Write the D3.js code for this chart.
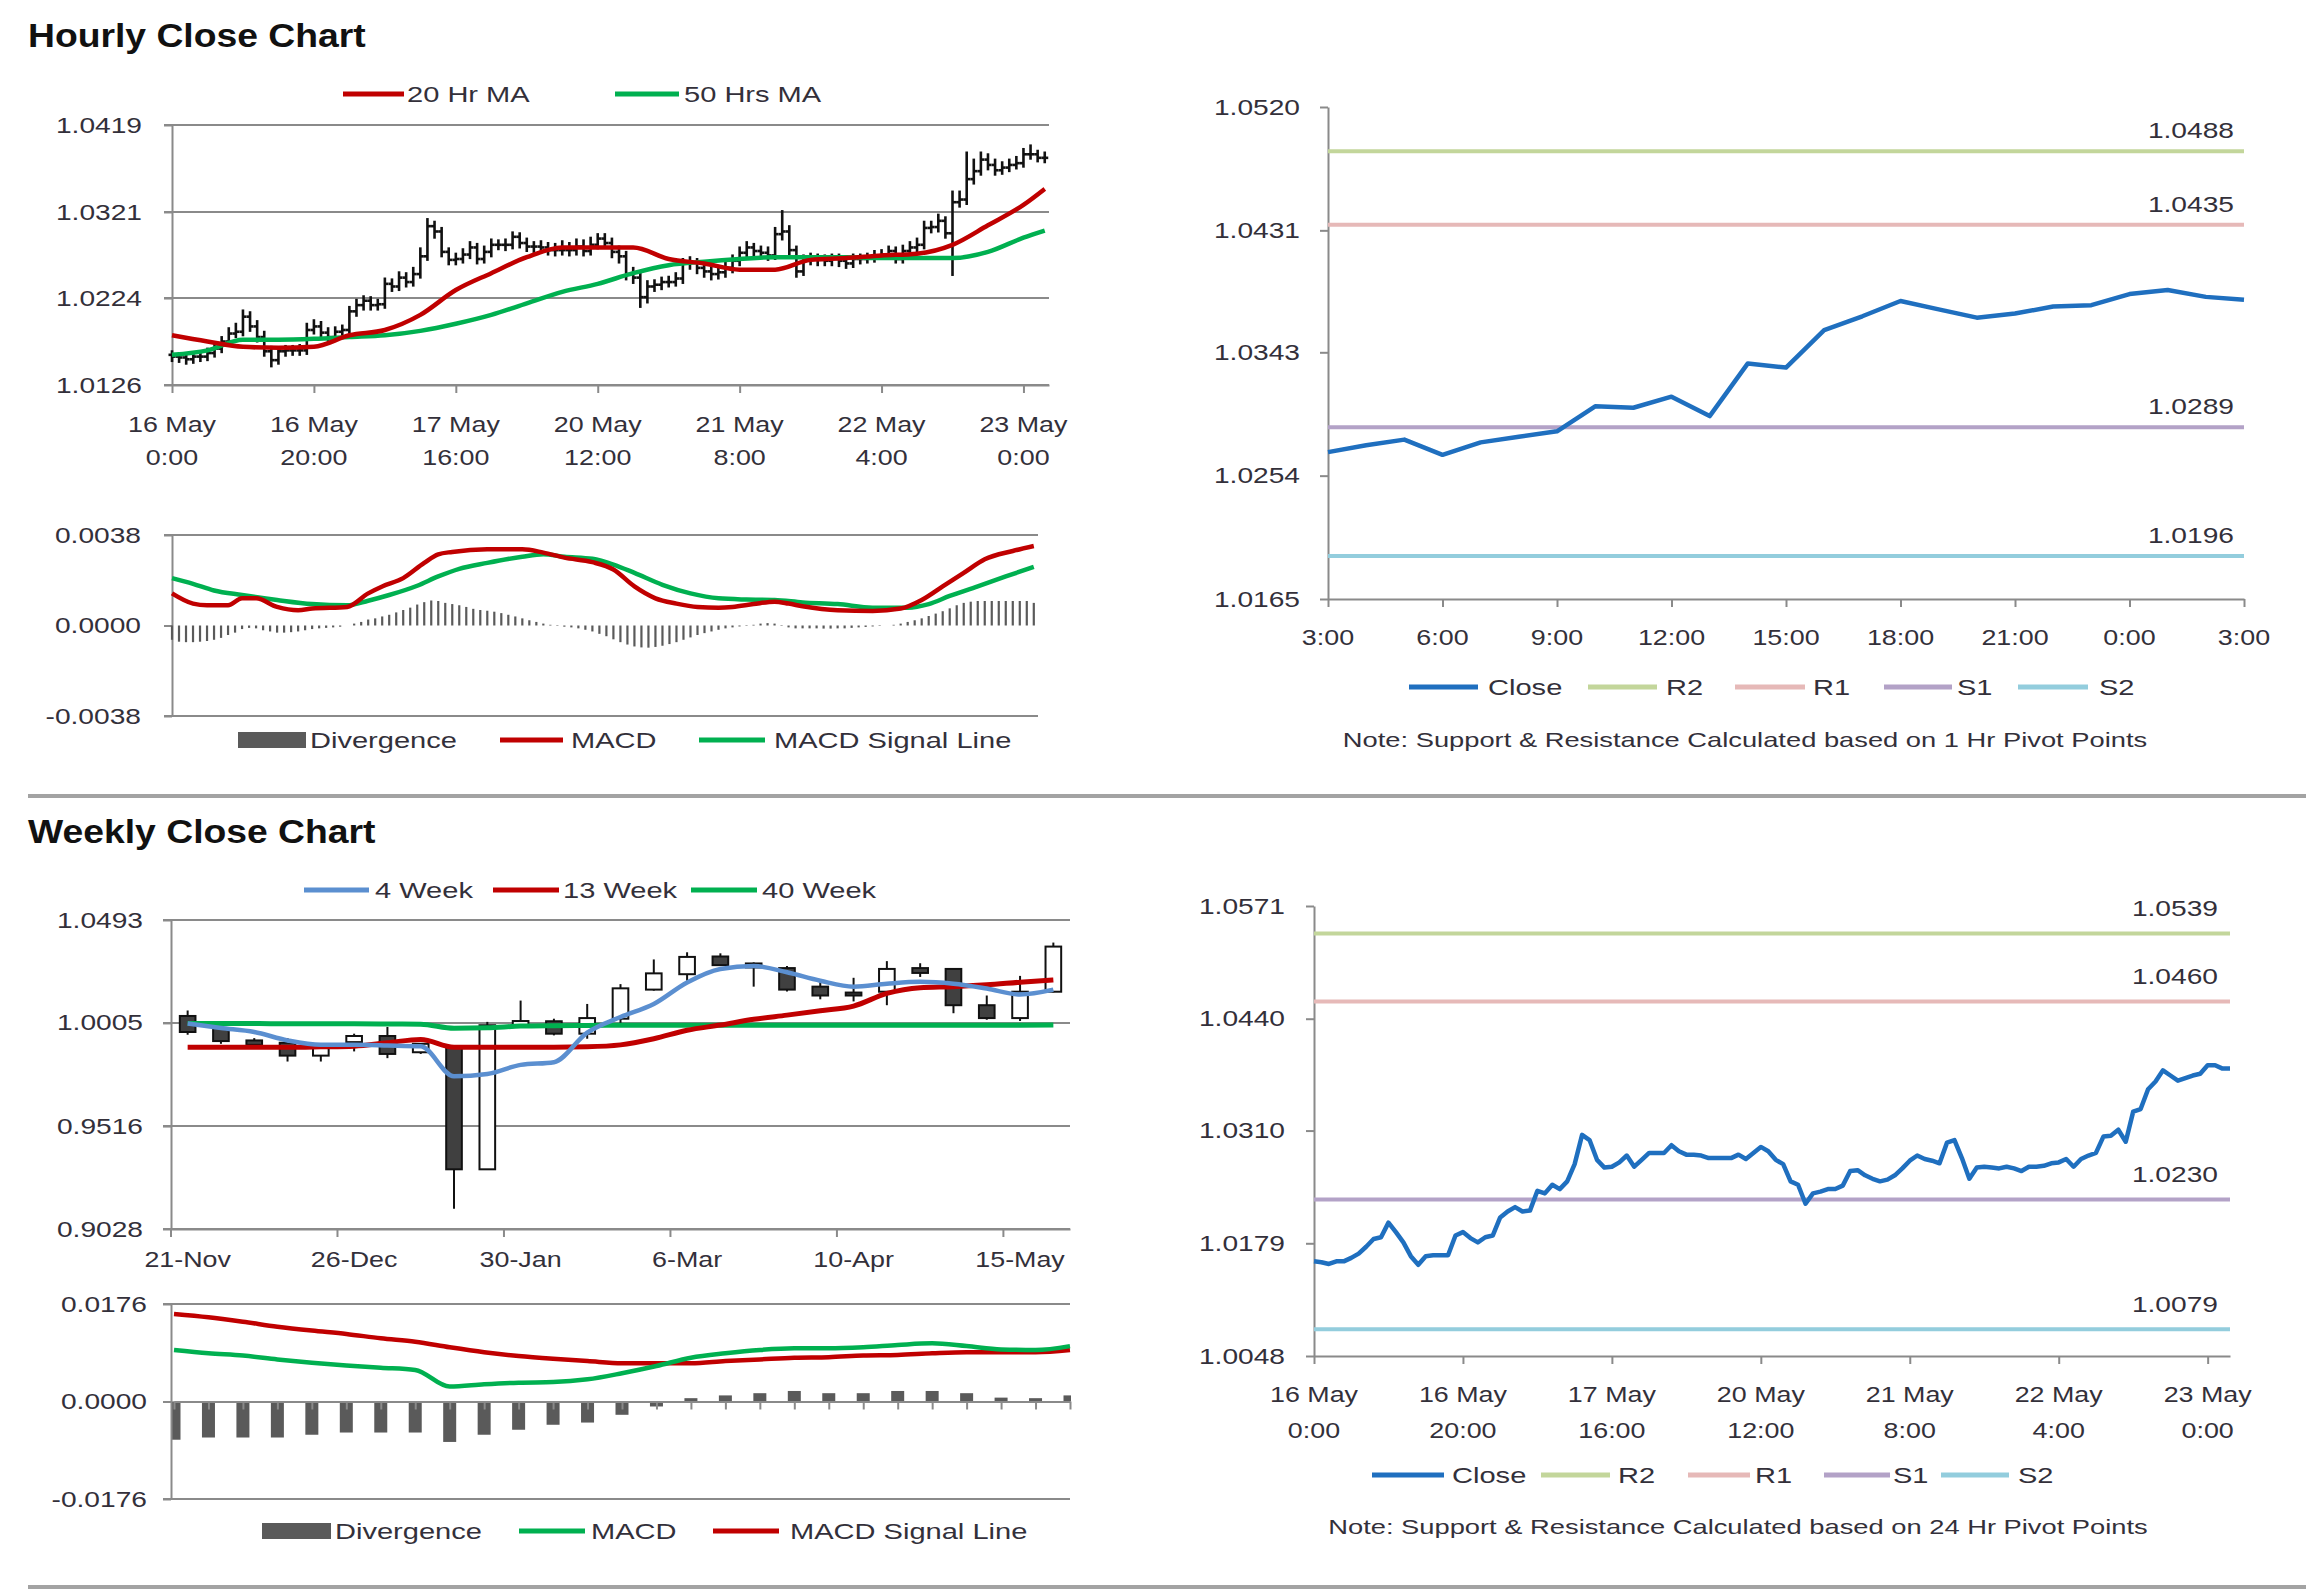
<!DOCTYPE html>
<html><head><meta charset="utf-8">
<script src="https://cdn.jsdelivr.net/npm/d3@7"></script>
<style>body{margin:0;background:#fff}svg{display:block}</style>
</head><body>
<svg id="chart" width="2306" height="1591"></svg>
<script>
// ================= DATA =================
// Hourly OHLC (16 May 0:00 .. 23 May 3:00), index = trading hour
const hourlyOpen = [1.0160,1.0158,1.0157,1.0155,1.0158,1.0158,1.0162,1.0167,1.0175,1.0184,
1.0186,1.0203,1.0192,1.0180,1.0164,1.0154,1.0164,1.0165,1.0165,1.0165,
1.0188,1.0192,1.0185,1.0180,1.0186,1.0188,1.0209,1.0216,1.0221,1.0216,
1.0217,1.0240,1.0237,1.0247,1.0242,1.0251,1.0271,1.0305,1.0299,1.0276,
1.0267,1.0268,1.0273,1.0281,1.0268,1.0276,1.0284,1.0284,1.0284,1.0293,
1.0286,1.0282,1.0282,1.0281,1.0278,1.0278,1.0278,1.0278,1.0282,1.0277,
1.0284,1.0291,1.0286,1.0276,1.0271,1.0251,1.0247,1.0225,1.0237,1.0239,
1.0242,1.0242,1.0246,1.0263,1.0264,1.0258,1.0254,1.0251,1.0253,1.0258,
1.0266,1.0275,1.0281,1.0277,1.0275,1.0272,1.0296,1.0299,1.0278,1.0254,
1.0267,1.0268,1.0267,1.0266,1.0268,1.0266,1.0263,1.0268,1.0268,1.0269,
1.0272,1.0273,1.0277,1.0268,1.0277,1.0281,1.0284,1.0303,1.0304,1.0311,
1.0297,1.0332,1.0335,1.0358,1.0367,1.0380,1.0374,1.0368,1.0371,1.0374,
1.0376,1.0386,1.0386,1.0382];
const hourlyHigh = [1.0164,1.0162,1.0161,1.0163,1.0163,1.0167,1.0172,1.0180,1.0190,1.0195,
1.0210,1.0208,1.0198,1.0186,1.0169,1.0168,1.0170,1.0170,1.0171,1.0195,
1.0199,1.0197,1.0190,1.0191,1.0193,1.0214,1.0222,1.0226,1.0225,1.0222,
1.0246,1.0245,1.0253,1.0252,1.0258,1.0280,1.0313,1.0310,1.0303,1.0280,
1.0274,1.0279,1.0287,1.0285,1.0282,1.0290,1.0289,1.0290,1.0298,1.0297,
1.0291,1.0287,1.0288,1.0286,1.0285,1.0288,1.0286,1.0290,1.0289,1.0292,
1.0296,1.0296,1.0291,1.0282,1.0276,1.0258,1.0252,1.0243,1.0244,1.0247,
1.0248,1.0252,1.0268,1.0270,1.0268,1.0263,1.0259,1.0258,1.0264,1.0272,
1.0281,1.0287,1.0285,1.0282,1.0281,1.0303,1.0322,1.0305,1.0282,1.0272,
1.0274,1.0273,1.0272,1.0273,1.0273,1.0271,1.0273,1.0273,1.0274,1.0277,
1.0278,1.0282,1.0281,1.0283,1.0287,1.0291,1.0310,1.0310,1.0318,1.0315,
1.0344,1.0344,1.0388,1.0380,1.0388,1.0386,1.0380,1.0377,1.0380,1.0383,
1.0392,1.0396,1.0390,1.0388];
const hourlyLow = [1.0153,1.0152,1.0150,1.0151,1.0153,1.0154,1.0158,1.0163,1.0171,1.0180,
1.0182,1.0187,1.0175,1.0159,1.0147,1.0150,1.0159,1.0160,1.0160,1.0161,
1.0184,1.0180,1.0175,1.0176,1.0182,1.0184,1.0204,1.0211,1.0211,1.0211,
1.0213,1.0232,1.0233,1.0237,1.0238,1.0247,1.0267,1.0292,1.0271,1.0262,
1.0262,1.0264,1.0269,1.0263,1.0264,1.0271,1.0279,1.0278,1.0280,1.0281,
1.0277,1.0276,1.0276,1.0273,1.0272,1.0273,1.0272,1.0273,1.0272,1.0273,
1.0280,1.0281,1.0270,1.0264,1.0245,1.0241,1.0214,1.0219,1.0232,1.0234,
1.0237,1.0238,1.0241,1.0257,1.0252,1.0248,1.0245,1.0246,1.0248,1.0253,
1.0261,1.0270,1.0272,1.0270,1.0267,1.0268,1.0290,1.0273,1.0248,1.0250,
1.0262,1.0261,1.0261,1.0261,1.0260,1.0258,1.0259,1.0263,1.0264,1.0265,
1.0268,1.0269,1.0264,1.0264,1.0273,1.0277,1.0280,1.0298,1.0299,1.0292,
1.0250,1.0327,1.0330,1.0353,1.0363,1.0369,1.0363,1.0364,1.0367,1.0370,
1.0372,1.0381,1.0378,1.0377];
const hourlyClose = [1.0158,1.0157,1.0155,1.0158,1.0158,1.0162,1.0167,1.0175,1.0184,1.0186,
1.0203,1.0192,1.0180,1.0164,1.0154,1.0164,1.0165,1.0165,1.0165,1.0188,
1.0192,1.0185,1.0180,1.0186,1.0188,1.0209,1.0216,1.0221,1.0216,1.0217,
1.0240,1.0237,1.0247,1.0242,1.0251,1.0271,1.0305,1.0299,1.0276,1.0267,
1.0268,1.0273,1.0281,1.0268,1.0276,1.0284,1.0284,1.0284,1.0293,1.0286,
1.0282,1.0282,1.0281,1.0278,1.0278,1.0278,1.0278,1.0282,1.0277,1.0284,
1.0291,1.0286,1.0276,1.0271,1.0251,1.0247,1.0225,1.0237,1.0239,1.0242,
1.0242,1.0246,1.0263,1.0264,1.0258,1.0254,1.0251,1.0253,1.0258,1.0266,
1.0275,1.0281,1.0277,1.0275,1.0272,1.0296,1.0299,1.0278,1.0254,1.0267,
1.0268,1.0267,1.0266,1.0268,1.0266,1.0263,1.0268,1.0268,1.0269,1.0272,
1.0273,1.0277,1.0268,1.0277,1.0281,1.0284,1.0303,1.0304,1.0311,1.0297,
1.0332,1.0335,1.0358,1.0367,1.0380,1.0374,1.0368,1.0371,1.0374,1.0376,
1.0386,1.0386,1.0382,1.0382];

// Moving averages (read every 5 hours)
const maIndex = [0,5,10,15,20,25,30,35,40,45,50,55,60,65,70,75,80,85,90,95,100,105,110,115,120,123];
const ma20Hr = [1.0182,1.0175,1.0169,1.0168,1.0169,1.0182,1.0188,1.0205,1.0233,1.0252,1.0270,1.0281,1.0281,1.0281,1.0268,1.0263,1.0256,1.0256,1.0267,1.0269,1.0272,1.0274,1.0284,1.0306,1.0329,1.0347];
const ma50Hr = [1.0160,1.0165,1.0177,1.0177,1.0178,1.0180,1.0182,1.0187,1.0195,1.0205,1.0218,1.0231,1.0240,1.0252,1.0261,1.0265,1.0268,1.0270,1.0270,1.0270,1.0269,1.0269,1.0269,1.0276,1.0292,1.0300];

// Hourly MACD
const macdHIndex = [0,3,5,8,10,12,15,18,20,25,28,30,33,36,38,40,45,50,53,56,60,63,66,69,72,75,78,80,83,86,88,90,95,100,104,107,110,113,116,120,123];
const macdH = [0.00135,0.00092,0.00085,0.00085,0.00114,0.00114,0.00078,0.00064,0.00071,0.00078,0.00135,0.00164,0.00199,0.00263,0.00299,0.00309,0.00320,0.00320,0.00306,0.00285,0.00266,0.00235,0.00164,0.00114,0.00092,0.00078,0.00075,0.00078,0.00090,0.00100,0.00092,0.00081,0.00064,0.00061,0.00071,0.00107,0.00164,0.00221,0.00278,0.00313,0.00334];
const signalHIndex = [0,3,6,10,15,20,25,28,31,35,38,41,45,50,53,56,60,63,66,70,74,78,82,86,90,95,100,105,108,111,115,119,123];
const signalH = [0.00199,0.00175,0.00147,0.00128,0.00107,0.00090,0.00085,0.00104,0.00128,0.00167,0.00206,0.00238,0.00263,0.00289,0.00299,0.00289,0.00280,0.00256,0.00221,0.00171,0.00135,0.00114,0.00109,0.00107,0.00097,0.00090,0.00075,0.00075,0.00090,0.00124,0.00164,0.00206,0.00246];
const divergenceH = [-0.00060,-0.00068,-0.00070,-0.00070,-0.00068,-0.00065,-0.00060,-0.00052,-0.00040,-0.00030,
-0.00015,-0.00010,-0.00012,-0.00020,-0.00025,-0.00030,-0.00030,-0.00028,-0.00025,-0.00020,
-0.00015,-0.00012,-0.00010,-0.00008,-0.00005,0.00000,0.00008,0.00015,0.00025,0.00030,
0.00038,0.00045,0.00055,0.00065,0.00075,0.00088,0.00098,0.00105,0.00103,0.00095,
0.00090,0.00085,0.00078,0.00070,0.00065,0.00062,0.00058,0.00052,0.00045,0.00038,
0.00030,0.00022,0.00015,0.00008,0.00003,-0.00002,-0.00005,-0.00008,-0.00012,-0.00018,
-0.00025,-0.00035,-0.00045,-0.00058,-0.00070,-0.00080,-0.00088,-0.00092,-0.00093,-0.00090,
-0.00085,-0.00078,-0.00070,-0.00060,-0.00050,-0.00040,-0.00032,-0.00025,-0.00018,-0.00012,
-0.00008,-0.00004,-0.00002,0.00003,0.00008,0.00010,0.00008,0.00002,-0.00008,-0.00012,
-0.00012,-0.00012,-0.00012,-0.00013,-0.00013,-0.00012,-0.00012,-0.00010,-0.00008,-0.00006,
-0.00004,-0.00002,0.00000,0.00003,0.00008,0.00015,0.00022,0.00030,0.00040,0.00050,
0.00060,0.00072,0.00085,0.00095,0.00100,0.00103,0.00103,0.00103,0.00103,0.00103,
0.00103,0.00103,0.00103,0.00095];

// Axis ticks
const hourTickIndex = [0,20,40,60,80,100,120];
const hourTickDay = ['16 May','16 May','17 May','20 May','21 May','22 May','23 May'];
const hourTickTime = ['0:00','20:00','16:00','12:00','8:00','4:00','0:00'];
const hourlyPriceTicks = [1.0126,1.0224,1.0321,1.0419];
const hourlyMacdTicks = [-0.0038,0.0000,0.0038];

// Last 24 hours close (22 May 3:00 .. 23 May 3:00) with 1 Hr pivots
const dayHours = ['3:00','6:00','9:00','12:00','15:00','18:00','21:00','0:00','3:00'];
const dayClose = [1.0271,1.0276,1.0280,1.0269,1.0278,1.0282,1.0286,1.0304,1.0303,1.0311,1.0297,1.0335,1.0332,1.0359,1.0369,1.0380,1.0374,1.0368,1.0371,1.0376,1.0377,1.0385,1.0388,1.0383,1.0381];
const dayTicks = [1.0165,1.0254,1.0343,1.0431,1.0520];
const pivotNames = ['R2','R1','S1','S2'];
const pivot1Hr = [1.0488,1.0435,1.0289,1.0196];
const pivot24Hr = [1.0539,1.0460,1.0230,1.0079];
const weekHourTicks = [1.0048,1.0179,1.0310,1.0440,1.0571];

// Weekly
const weeks = ['21-Nov','28-Nov','5-Dec','12-Dec','19-Dec','26-Dec','2-Jan','9-Jan','16-Jan','23-Jan','30-Jan','6-Feb','13-Feb','20-Feb','27-Feb','6-Mar','13-Mar','20-Mar','27-Mar','3-Apr','10-Apr','17-Apr','24-Apr','1-May','8-May','15-May','22-May'];
const weekLabelIdx = [0,5,10,15,20,25];
const wOpen  = [1.0038,0.9981,0.9922,0.9911,0.9850,0.9914,0.9943,0.9866,0.9890,0.9311,0.9994,1.0013,0.9954,1.0025,1.0163,1.0236,1.0320,1.0287,1.0265,1.0177,1.0149,1.0153,1.0265,1.0261,1.0089,1.0028,1.0153];
const wHigh  = [1.0064,0.9991,0.9933,0.9933,0.9901,0.9954,0.9986,0.9906,0.9890,1.0010,1.0111,1.0025,1.0095,1.0189,1.0306,1.0340,1.0335,1.0292,1.0275,1.0200,1.0219,1.0298,1.0288,1.0261,1.0135,1.0228,1.0386];
const wLow   = [0.9949,0.9906,0.9895,0.9822,0.9822,0.9870,0.9838,0.9858,0.9124,0.9311,0.9994,0.9946,0.9930,1.0002,1.0158,1.0205,1.0276,1.0177,1.0154,1.0117,1.0107,1.0089,1.0223,1.0051,1.0020,1.0014,1.0150];
const wClose = [0.9962,0.9919,0.9901,0.9850,0.9898,0.9943,0.9858,0.9906,0.9311,0.9994,1.0014,0.9954,1.0028,1.0169,1.0240,1.0318,1.0279,1.0268,1.0163,1.0135,1.0135,1.0261,1.0242,1.0089,1.0028,1.0153,1.0367];
const ma4Week  = [1.0002,0.9981,0.9962,0.9922,0.9901,0.9901,0.9898,0.9894,0.9752,0.9763,0.9806,0.9819,0.9959,1.0033,1.0095,1.0197,1.0261,1.0275,1.0245,1.0205,1.0177,1.0191,1.0200,1.0191,1.0168,1.0140,1.0163];
const ma13Week = [0.9890,0.9890,0.9890,0.9890,0.9892,0.9895,0.9911,0.9927,0.9890,0.9890,0.9890,0.9890,0.9892,0.9901,0.9930,0.9970,0.9995,1.0022,1.0042,1.0063,1.0085,1.0145,1.0172,1.0177,1.0186,1.0198,1.0209];
const ma40Week = [1.0002,1.0002,1.0002,1.0001,1.0001,1.0001,1.0000,0.9999,0.9980,0.9982,0.9990,0.9992,0.9993,0.9994,0.9994,0.9994,0.9994,0.9994,0.9994,0.9994,0.9994,0.9994,0.9994,0.9994,0.9994,0.9994,0.9995];
const weeklyPriceTicks = [0.9028,0.9516,1.0005,1.0493];
const macdW   = [0.0093,0.0087,0.0083,0.0076,0.0070,0.0065,0.0061,0.0057,0.0027,0.0031,0.0034,0.0035,0.0040,0.0051,0.0064,0.0079,0.0087,0.0093,0.0096,0.0096,0.0098,0.0102,0.0105,0.0100,0.0094,0.0093,0.0100];
const signalW = [0.0158,0.0152,0.0144,0.0135,0.0128,0.0122,0.0114,0.0108,0.0098,0.0089,0.0082,0.0077,0.0073,0.0069,0.0069,0.0069,0.0073,0.0076,0.0079,0.0080,0.0083,0.0084,0.0087,0.0089,0.0089,0.0089,0.0093];
const divergenceW = [-0.0069,-0.0065,-0.0065,-0.0065,-0.0060,-0.0056,-0.0056,-0.0056,-0.0073,-0.0060,-0.0051,-0.0042,-0.0038,-0.0024,-0.0009,0.0006,0.0011,0.0015,0.0019,0.0015,0.0015,0.0019,0.0019,0.0015,0.0007,0.0006,0.0011];
const weeklyMacdTicks = [-0.0176,0.0000,0.0176];

// ================= DRAWING =================
const FONT = "'Liberation Sans', Arial, Helvetica, sans-serif";
const TC = '#33303a';
const AX = '#8a8a8a';
const GRID = '#8a8a8a';
const RED = '#c00000', GREEN = '#00b050', BLUE4 = '#5b8fd0', CLOSE = '#1f6fbf';
const PIV = {R2:'#c3d69b', R1:'#e6b9b8', S1:'#b3a2c7', S2:'#93cddd'};
const BARC = '#5a5a5a';
const K_Y = 1.28, K_X = 1.22, K_LEG = 1.32;
const svg = d3.select('#chart');
const fmt4 = d3.formatLocale({decimal: '.', thousands: ',', grouping: [3], currency: ['', ''], minus: '-'}).format('.4f');

function txt(g, x, y, s, o = {}) {
  return g.append('text').attr('x', x).attr('y', y)
    .attr('text-anchor', o.anchor || 'start')
    .attr('dy', o.dy === undefined ? '0.35em' : o.dy)
    .attr('data-k', o.k || K_X)
    .style('font-family', FONT).style('font-size', (o.size || 22) + 'px')
    .style('font-weight', o.weight || 'normal').style('fill', o.fill || TC)
    .text(s);
}
function styleAxis(a) {
  a.select('.domain').attr('stroke', AX).attr('stroke-width', 2);
  a.selectAll('.tick line').attr('stroke', AX).attr('stroke-width', 2);
  a.selectAll('.tick text').style('font-family', FONT).style('font-size', '22px').style('fill', TC).attr('data-k', K_Y);
  a.attr('font-size', null).attr('font-family', null);
}
function hline(g, x1, x2, y, c, w) {
  g.append('line').attr('x1', x1).attr('x2', x2).attr('y1', y).attr('y2', y).attr('stroke', c).attr('stroke-width', w);
}
function legendLine(g, x1, x2, y, c, label, tx) {
  hline(g, x1, x2, y, c, 5);
  txt(g, tx, y, label, {k: K_LEG});
}
function legendBox(g, x1, x2, y, c, label, tx) {
  g.append('rect').attr('x', x1).attr('y', y - 8).attr('width', x2 - x1).attr('height', 16).attr('fill', c);
  txt(g, tx, y, label, {k: K_LEG});
}

// separators and titles
hline(svg, 28, 2306, 796, '#a3a3a3', 4);
hline(svg, 28, 2306, 1587, '#a3a3a3', 4);
txt(svg, 28, 47, 'Hourly Close Chart', {size: 33, weight: 'bold', dy: 0, k: 1.13, fill: '#111'});
txt(svg, 28, 843, 'Weekly Close Chart', {size: 33, weight: 'bold', dy: 0, k: 1.13, fill: '#111'});

// ---------- Hourly OHLC ----------
{
  const g = svg.append('g');
  const x = d3.scaleLinear().domain([0, 123.6]).range([172, 1049]);
  const y = d3.scaleLinear().domain([1.0126, 1.0419]).range([385, 125]);
  hourlyPriceTicks.forEach(t => hline(g, 164, 1049, y(t), GRID, 2));
  styleAxis(g.append('g').attr('transform', 'translate(172,0)')
    .call(d3.axisLeft(y).tickValues(hourlyPriceTicks).tickSize(8).tickSizeOuter(0).tickPadding(22).tickFormat(fmt4)));
  styleAxis(g.append('g').attr('transform', 'translate(0,385)')
    .call(d3.axisBottom(x).tickValues(hourTickIndex).tickSize(8).tickSizeOuter(0).tickFormat('')));
  hourTickIndex.forEach((t, k) => { txt(g, x(t), 424, hourTickDay[k], {anchor: 'middle'}); txt(g, x(t), 457, hourTickTime[k], {anchor: 'middle'}); });
  const bars = g.append('g').attr('stroke', '#111').attr('stroke-width', 2.6);
  hourlyClose.forEach((c, i) => {
    const cx = x(i);
    bars.append('line').attr('x1', cx).attr('x2', cx).attr('y1', y(hourlyHigh[i]) - 1).attr('y2', y(hourlyLow[i]) + 1);
    bars.append('line').attr('x1', cx - 3.5).attr('x2', cx).attr('y1', y(hourlyOpen[i])).attr('y2', y(hourlyOpen[i]));
    bars.append('line').attr('x1', cx).attr('x2', cx + 3.5).attr('y1', y(c)).attr('y2', y(c));
  });
  const line = d3.line().x(d => x(d[0])).y(d => y(d[1])).curve(d3.curveMonotoneX);
  g.append('path').attr('d', line(maIndex.map((t, k) => [t, ma50Hr[k]]))).attr('fill', 'none').attr('stroke', GREEN).attr('stroke-width', 4.5);
  g.append('path').attr('d', line(maIndex.map((t, k) => [t, ma20Hr[k]]))).attr('fill', 'none').attr('stroke', RED).attr('stroke-width', 4.5);
  legendLine(g, 343, 404, 94, RED, '20 Hr MA', 407);
  legendLine(g, 615, 679, 94, GREEN, '50 Hrs MA', 684);
}

// ---------- Hourly MACD ----------
{
  const g = svg.append('g');
  const x = d3.scaleLinear().domain([0, 123.6]).range([172, 1038]);
  const y = d3.scaleLinear().domain([-0.0038, 0.0038]).range([716, 535]);
  [-0.0038, 0.0038].forEach(t => hline(g, 164, 1038, y(t), GRID, 2));
  styleAxis(g.append('g').attr('transform', 'translate(172,0)')
    .call(d3.axisLeft(y).tickValues(hourlyMacdTicks).tickSize(8).tickSizeOuter(0).tickPadding(23).tickFormat(fmt4)));
  const bg = g.append('g').attr('stroke', BARC).attr('stroke-width', 2.2);
  divergenceH.forEach((v, i) => bg.append('line').attr('x1', x(i)).attr('x2', x(i)).attr('y1', y(0)).attr('y2', y(v)));
  const line = d3.line().x(d => x(d[0])).y(d => y(d[1])).curve(d3.curveMonotoneX);
  g.append('path').attr('d', line(signalHIndex.map((t, k) => [t, signalH[k]]))).attr('fill', 'none').attr('stroke', GREEN).attr('stroke-width', 4.5);
  g.append('path').attr('d', line(macdHIndex.map((t, k) => [t, macdH[k]]))).attr('fill', 'none').attr('stroke', RED).attr('stroke-width', 4.5);
  legendBox(g, 238, 306, 740, BARC, 'Divergence', 310);
  legendLine(g, 500, 563, 740, RED, 'MACD', 571);
  legendLine(g, 699, 765, 740, GREEN, 'MACD Signal Line', 774);
}

// ---------- Pivot close chart helper ----------
function pivotChart(o) {
  const g = svg.append('g');
  const x = d3.scaleLinear().domain(o.xDomain).range([o.x0, o.x1]);
  const y = d3.scaleLinear().domain([o.ticks[0], o.ticks[o.ticks.length - 1]]).range([o.y1, o.y0]);
  styleAxis(g.append('g').attr('transform', `translate(${o.x0},0)`)
    .call(d3.axisLeft(y).tickValues(o.ticks).tickSize(8).tickSizeOuter(0).tickPadding(o.pad).tickFormat(fmt4)));
  styleAxis(g.append('g').attr('transform', `translate(0,${o.y1})`)
    .call(d3.axisBottom(x).tickValues(o.xTicks).tickSize(8).tickSizeOuter(0).tickFormat('')));
  o.pivots.forEach((v, k) => {
    hline(g, o.x0, o.x1, y(v), PIV[pivotNames[k]], 4);
    txt(g, o.labelX, y(v) - o.labelOff, fmt4(v), {anchor: 'end', k: K_Y});
  });
  const line = d3.line().x((d, i) => x(i)).y(d => y(d));
  g.append('path').attr('d', line(o.data)).attr('fill', 'none').attr('stroke', CLOSE).attr('stroke-width', 4.5).attr('stroke-linejoin', 'round');
  o.xLabels(g, x);
  const L = o.legend;
  legendLine(g, L[0][0], L[0][1], o.legY, CLOSE, 'Close', L[0][2]);
  pivotNames.forEach((n, k) => legendLine(g, L[k + 1][0], L[k + 1][1], o.legY, PIV[n], n, L[k + 1][2]));
  txt(g, o.noteX, o.noteY, o.note, {anchor: 'middle', size: 21, k: 1.30});
}

pivotChart({
  xDomain: [0, 24], x0: 1328, x1: 2244, y0: 107, y1: 599, pad: 20,
  ticks: dayTicks, xTicks: d3.range(0, 25, 3), pivots: pivot1Hr, labelX: 2234, labelOff: 21,
  data: dayClose,
  xLabels: (g, x) => d3.range(0, 25, 3).forEach((t, k) => txt(g, x(t), 637, dayHours[k], {anchor: 'middle'})),
  legY: 687,
  legend: [[1409, 1478, 1488], [1588, 1657, 1666], [1735, 1805, 1813], [1884, 1952, 1957], [2018, 2088, 2099]],
  noteX: 1745, noteY: 740, note: 'Note: Support & Resistance Calculated based on 1 Hr Pivot Points'
});

pivotChart({
  xDomain: [0, 123], x0: 1314, x1: 2230, y0: 906, y1: 1356, pad: 21,
  ticks: weekHourTicks, xTicks: hourTickIndex, pivots: pivot24Hr, labelX: 2218, labelOff: 25,
  data: hourlyClose,
  xLabels: (g, x) => hourTickIndex.forEach((t, k) => { txt(g, x(t), 1394, hourTickDay[k], {anchor: 'middle'}); txt(g, x(t), 1430, hourTickTime[k], {anchor: 'middle'}); }),
  legY: 1475,
  legend: [[1372, 1444, 1452], [1541, 1610, 1618], [1688, 1750, 1755], [1824, 1890, 1893], [1941, 2009, 2018]],
  noteX: 1738, noteY: 1527, note: 'Note: Support & Resistance Calculated based on 24 Hr Pivot Points'
});

// ---------- Weekly candles ----------
{
  const g = svg.append('g');
  const x = d3.scaleBand().domain(weeks).range([171, 1070]).padding(0);
  const y = d3.scaleLinear().domain([0.9028, 1.0493]).range([1229, 920]);
  const cx = w => x(w) + x.bandwidth() / 2;
  weeklyPriceTicks.forEach(t => hline(g, 163, 1070, y(t), GRID, 2));
  styleAxis(g.append('g').attr('transform', 'translate(171,0)')
    .call(d3.axisLeft(y).tickValues(weeklyPriceTicks).tickSize(8).tickSizeOuter(0).tickPadding(20).tickFormat(fmt4)));
  const xa = g.append('g').attr('transform', 'translate(0,1229)')
    .call(d3.axisBottom(x).tickValues(weekLabelIdx.map(i => weeks[i])).tickSize(8).tickSizeOuter(0).tickFormat(''));
  xa.selectAll('.tick').attr('transform', d => `translate(${x(d)},0)`);
  styleAxis(xa);
  weekLabelIdx.forEach(i => txt(g, cx(weeks[i]), 1259, weeks[i], {anchor: 'middle'}));
  const bw = x.bandwidth() * 0.47;
  weeks.forEach((w, i) => {
    g.append('line').attr('x1', cx(w)).attr('x2', cx(w)).attr('y1', y(wHigh[i])).attr('y2', y(wLow[i])).attr('stroke', '#111').attr('stroke-width', 2);
    const top = Math.max(wOpen[i], wClose[i]), bot = Math.min(wOpen[i], wClose[i]);
    g.append('rect').attr('x', cx(w) - bw / 2).attr('y', y(top)).attr('width', bw).attr('height', Math.max(2, y(bot) - y(top)))
      .attr('fill', wClose[i] >= wOpen[i] ? '#ffffff' : '#404040').attr('stroke', '#111').attr('stroke-width', 2);
  });
  const line = d3.line().x((d, i) => cx(weeks[i])).y(d => y(d)).curve(d3.curveMonotoneX);
  g.append('path').attr('d', line(ma40Week)).attr('fill', 'none').attr('stroke', GREEN).attr('stroke-width', 5);
  g.append('path').attr('d', line(ma13Week)).attr('fill', 'none').attr('stroke', RED).attr('stroke-width', 5);
  g.append('path').attr('d', line(ma4Week)).attr('fill', 'none').attr('stroke', BLUE4).attr('stroke-width', 4.5);
  legendLine(g, 304, 369, 890, BLUE4, '4 Week', 375);
  legendLine(g, 493, 559, 890, RED, '13 Week', 563);
  legendLine(g, 691, 757, 890, GREEN, '40 Week', 762);
}

// ---------- Weekly MACD ----------
{
  const g = svg.append('g');
  const x = d3.scalePoint().domain(weeks).range([174, 1070]);
  const y = d3.scaleLinear().domain([-0.0176, 0.0176]).range([1499, 1304]);
  [-0.0176, 0.0176].forEach(t => hline(g, 163, 1070, y(t), GRID, 2));
  const clipId = 'wclip';
  g.append('clipPath').attr('id', clipId).append('rect').attr('x', 171).attr('y', 1300).attr('width', 900).attr('height', 210);
  const bg = g.append('g').attr('clip-path', `url(#${clipId})`);
  weeks.forEach((w, i) => {
    const v = divergenceW[i];
    bg.append('rect').attr('x', x(w) - 6.5).attr('width', 13).attr('y', Math.min(y(0), y(v))).attr('height', Math.abs(y(v) - y(0))).attr('fill', BARC);
  });
  styleAxis(g.append('g').attr('transform', `translate(0,${y(0)})`)
    .call(d3.axisBottom(x).tickSize(8).tickSizeOuter(0).tickFormat('')));
  styleAxis(g.append('g').attr('transform', 'translate(171,0)')
    .call(d3.axisLeft(y).tickValues(weeklyMacdTicks).tickSize(8).tickSizeOuter(0).tickPadding(16).tickFormat(fmt4)));
  const line = d3.line().x((d, i) => x(weeks[i])).y(d => y(d)).curve(d3.curveMonotoneX);
  g.append('path').attr('d', line(signalW)).attr('fill', 'none').attr('stroke', RED).attr('stroke-width', 4.5);
  g.append('path').attr('d', line(macdW)).attr('fill', 'none').attr('stroke', GREEN).attr('stroke-width', 4.5);
  legendBox(g, 262, 331, 1531, BARC, 'Divergence', 335);
  legendLine(g, 519, 585, 1531, GREEN, 'MACD', 591);
  legendLine(g, 713, 779, 1531, RED, 'MACD Signal Line', 790);
}

// horizontal stretch of all text to match the wide rendering of the original
svg.selectAll('text').each(function () {
  const k = +this.getAttribute('data-k') || K_X;
  const w = this.getComputedTextLength();
  if (w > 0) { this.setAttribute('textLength', (w * k).toFixed(1)); this.setAttribute('lengthAdjust', 'spacingAndGlyphs'); }
});
</script>
</body></html>
